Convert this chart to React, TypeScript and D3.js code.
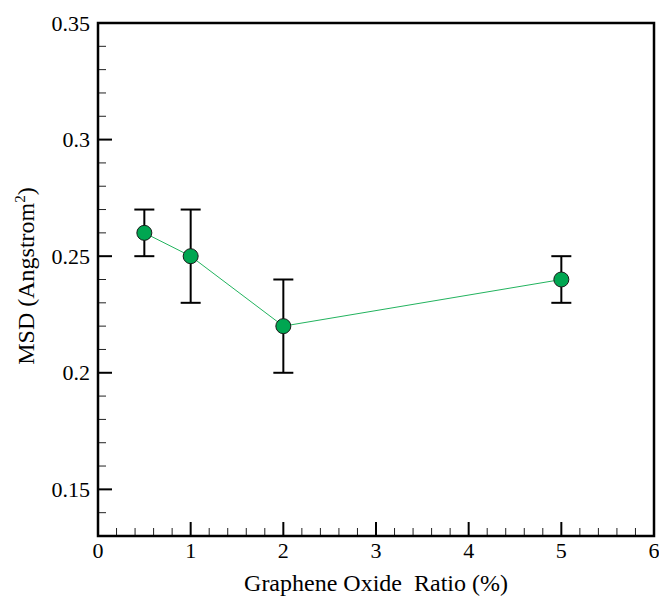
import { useEffect, useRef } from "react";
import * as d3 from "d3";

const ratios = [0.5, 1, 2, 5];
const msd = [0.26, 0.25, 0.22, 0.24];
const errUp = [0.01, 0.02, 0.02, 0.01];
const errDown = [0.01, 0.02, 0.02, 0.01];
const yTickLabels = [0.15, 0.2, 0.25, 0.3, 0.35];
const xTickLabels = [0, 1, 2, 3, 4, 5, 6];

export default function App() {
  const ref = useRef<SVGSVGElement>(null);

  useEffect(() => {
    const width = 659;
    const height = 596;
    const m = { left: 98, right: 5, top: 23, bottom: 60 };
    const font = "Liberation Serif, Times New Roman, Times, DejaVu Serif, serif";

    const svg = d3.select(ref.current).attr("width", width).attr("height", height);
    svg.selectAll("*").remove();

    const x = d3.scaleLinear().domain([0, 6]).range([m.left, width - m.right]);
    const y = d3.scaleLinear().domain([0.13, 0.35]).range([height - m.bottom, m.top]);

    const g = svg.append("g");

    // minor ticks
    const xMinor = d3.range(0, 6.001, 0.2).filter((v) => Math.abs(v - Math.round(v)) > 1e-6);
    g.selectAll(".xminor").data(xMinor).join("line")
      .attr("x1", (d) => x(d)).attr("x2", (d) => x(d))
      .attr("y1", y(0.13)).attr("y2", y(0.13) - 8)
      .attr("stroke", "#222").attr("stroke-width", 1);
    const yMinor = d3.range(0.13, 0.3501, 0.01).filter((v) => Math.abs(v * 20 - Math.round(v * 20)) > 1e-6);
    g.selectAll(".yminor").data(yMinor).join("line")
      .attr("x1", x(0)).attr("x2", x(0) + 8)
      .attr("y1", (d) => y(d)).attr("y2", (d) => y(d))
      .attr("stroke", "#222").attr("stroke-width", 1);

    // major ticks
    g.selectAll(".xmajor").data(xTickLabels).join("line")
      .attr("x1", (d) => x(d)).attr("x2", (d) => x(d))
      .attr("y1", y(0.13)).attr("y2", y(0.13) - 14)
      .attr("stroke", "#000").attr("stroke-width", 2);
    g.selectAll(".ymajor").data(yTickLabels).join("line")
      .attr("x1", x(0)).attr("x2", x(0) + 14)
      .attr("y1", (d) => y(d)).attr("y2", (d) => y(d))
      .attr("stroke", "#000").attr("stroke-width", 2);

    // frame
    g.append("rect")
      .attr("x", x(0)).attr("y", y(0.35))
      .attr("width", x(6) - x(0)).attr("height", y(0.13) - y(0.35))
      .attr("fill", "none").attr("stroke", "#000").attr("stroke-width", 2.5);

    // tick labels
    g.selectAll(".xl").data(xTickLabels).join("text")
      .attr("x", (d) => x(d)).attr("y", y(0.13) + 22)
      .attr("text-anchor", "middle")
      .style("font-family", font).style("font-size", "22px")
      .text((d) => String(d));
    g.selectAll(".yl").data(yTickLabels).join("text")
      .attr("x", x(0) - 8).attr("y", (d) => y(d) + 7.5)
      .attr("text-anchor", "end")
      .style("font-family", font).style("font-size", "22px")
      .text((d) => String(d));

    // axis titles
    g.append("text")
      .attr("x", (x(0) + x(6)) / 2).attr("y", 591)
      .attr("text-anchor", "middle")
      .style("font-family", font).style("font-size", "24px")
      .style("white-space", "pre")
      .text("Graphene Oxide  Ratio (%)");
    const yt = g.append("text")
      .attr("transform", "translate(34, 276) rotate(-90)")
      .attr("text-anchor", "middle")
      .style("font-family", font).style("font-size", "24px");
    yt.append("tspan").text("MSD (Angstrom");
    yt.append("tspan").attr("dy", -9).style("font-size", "15px").text("2");
    yt.append("tspan").attr("dy", 9).text(")");

    const pts = ratios.map((r, i) => ({ r, v: msd[i], up: errUp[i], down: errDown[i] }));

    // line
    g.append("path").datum(pts)
      .attr("d", d3.line<typeof pts[0]>().x((d) => x(d.r)).y((d) => y(d.v)))
      .attr("fill", "none").attr("stroke", "#22b35e").attr("stroke-width", 1);

    // error bars
    const eb = g.selectAll(".eb").data(pts).join("g");
    eb.append("line")
      .attr("x1", (d) => x(d.r)).attr("x2", (d) => x(d.r))
      .attr("y1", (d) => y(d.v + d.up)).attr("y2", (d) => y(d.v - d.down))
      .attr("stroke", "#000").attr("stroke-width", 2);
    eb.append("line")
      .attr("x1", (d) => x(d.r) - 10).attr("x2", (d) => x(d.r) + 10)
      .attr("y1", (d) => y(d.v + d.up)).attr("y2", (d) => y(d.v + d.up))
      .attr("stroke", "#000").attr("stroke-width", 2);
    eb.append("line")
      .attr("x1", (d) => x(d.r) - 10).attr("x2", (d) => x(d.r) + 10)
      .attr("y1", (d) => y(d.v - d.down)).attr("y2", (d) => y(d.v - d.down))
      .attr("stroke", "#000").attr("stroke-width", 2);

    // markers
    g.selectAll(".pt").data(pts).join("circle")
      .attr("cx", (d) => x(d.r)).attr("cy", (d) => y(d.v))
      .attr("r", 7.5)
      .attr("fill", "#00a651").attr("stroke", "#1a1a1a").attr("stroke-width", 1);
  }, []);

  return <svg ref={ref} style={{ position: "absolute", left: 0, top: 0 }}></svg>;
}
